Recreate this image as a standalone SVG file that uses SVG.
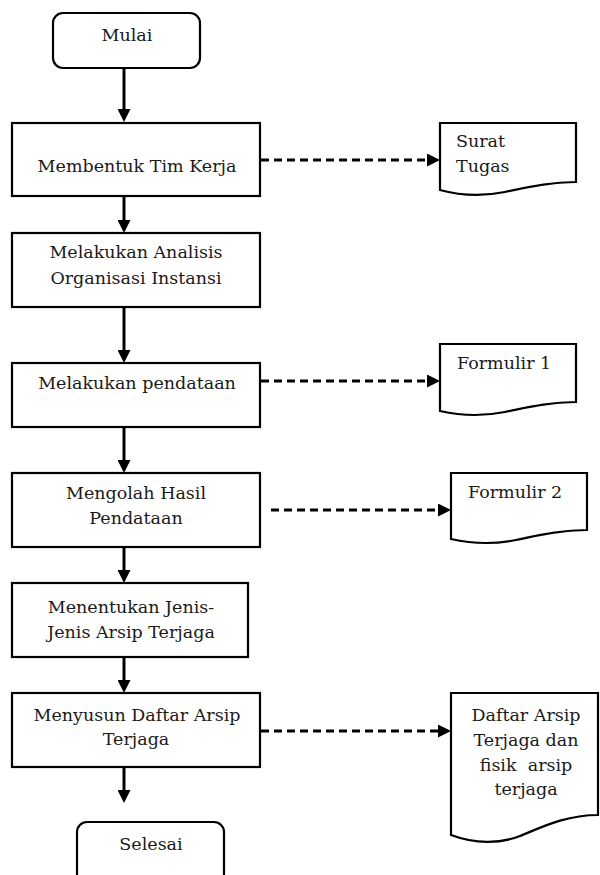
<svg xmlns="http://www.w3.org/2000/svg" width="600" height="875" viewBox="0 0 600 875">
<defs>
<style>
.box{fill:#fff;stroke:#000;stroke-width:2.2}
.t{font-family:"DejaVu Serif","Liberation Serif",serif;font-size:17.5px;fill:#1a1a1a}
.c{text-anchor:middle}
.solid{stroke:#000;stroke-width:3;fill:none}
.dash{stroke:#000;stroke-width:3;fill:none;stroke-dasharray:8 5}
</style>
<marker id="ah" viewBox="0 0 13 13" refX="9" refY="6.5" markerWidth="13" markerHeight="13" markerUnits="userSpaceOnUse" orient="auto">
<path d="M0,0 L13,6.5 L0,13 Z" fill="#000"/>
</marker>
</defs>
<rect width="600" height="875" fill="#fff"/>
<g id="connectors">
<line class="solid" x1="124" y1="68" x2="124" y2="118" marker-end="url(#ah)"/>
<line class="solid" x1="124" y1="196" x2="124" y2="229" marker-end="url(#ah)"/>
<line class="solid" x1="124" y1="307" x2="124" y2="359" marker-end="url(#ah)"/>
<line class="solid" x1="124" y1="427" x2="124" y2="469" marker-end="url(#ah)"/>
<line class="solid" x1="124" y1="547" x2="124" y2="579" marker-end="url(#ah)"/>
<line class="solid" x1="124" y1="657" x2="124" y2="689" marker-end="url(#ah)"/>
<line class="solid" x1="124" y1="767" x2="124" y2="799" marker-end="url(#ah)"/>
<line class="dash" x1="261" y1="160" x2="436" y2="160" marker-end="url(#ah)"/>
<line class="dash" x1="261" y1="381" x2="436" y2="381" marker-end="url(#ah)"/>
<line class="dash" x1="271" y1="510" x2="447" y2="510" marker-end="url(#ah)"/>
<line class="dash" x1="261" y1="731" x2="447" y2="731" marker-end="url(#ah)"/>
</g>
<g id="mulai">
<rect class="box" x="53" y="13" width="147" height="55" rx="10"/>
<text class="t c" x="127" y="41">Mulai</text>
</g>
<g id="membentuk">
<rect class="box" x="12" y="123" width="248" height="73"/>
<text class="t c" x="137" y="172">Membentuk Tim Kerja</text>
</g>
<g id="surat-tugas">
<path class="box" d="M440,123 H576 V182 C548,182 525,188 505,192 C485,196 462,196 440,190 Z"/>
<text class="t" x="456" y="147">Surat</text>
<text class="t" x="456" y="172">Tugas</text>
</g>
<g id="analisis">
<rect class="box" x="12" y="233" width="248" height="74"/>
<text class="t c" x="136" y="258">Melakukan Analisis</text>
<text class="t c" x="136" y="284">Organisasi Instansi</text>
</g>
<g id="pendataan">
<rect class="box" x="12" y="363" width="248" height="64"/>
<text class="t c" x="137" y="389">Melakukan pendataan</text>
</g>
<g id="formulir1">
<path class="box" d="M440,344 H576 V402 C548,402 525,408 505,412 C485,416 462,416 440,411 Z"/>
<text class="t" x="457" y="369">Formulir 1</text>
</g>
<g id="mengolah">
<rect class="box" x="12" y="473" width="248" height="74"/>
<text class="t c" x="136" y="499">Mengolah Hasil</text>
<text class="t c" x="136" y="524">Pendataan</text>
</g>
<g id="formulir2">
<path class="box" d="M451,473 H587 V530 C559,530 536,536 516,540 C496,544 473,544 451,539 Z"/>
<text class="t" x="468" y="498">Formulir 2</text>
</g>
<g id="menentukan">
<rect class="box" x="12" y="583" width="236" height="74"/>
<text class="t c" x="131" y="613">Menentukan Jenis-</text>
<text class="t c" x="131" y="638">Jenis Arsip Terjaga</text>
</g>
<g id="menyusun">
<rect class="box" x="12" y="693" width="248" height="74"/>
<text class="t c" x="137" y="721">Menyusun Daftar Arsip</text>
<text class="t c" x="136" y="745">Terjaga</text>
</g>
<g id="daftar-arsip">
<path class="box" d="M451,693 H598 V815 C565,815 540,828 520,836 C500,844 475,844 451,835 Z"/>
<text class="t c" x="526" y="721">Daftar Arsip</text>
<text class="t c" x="526" y="746">Terjaga dan</text>
<text class="t c" x="526" y="771" xml:space="preserve">fisik  arsip</text>
<text class="t c" x="526" y="795">terjaga</text>
</g>
<g id="selesai">
<rect class="box" x="77" y="822" width="147" height="62" rx="10"/>
<text class="t c" x="151" y="850">Selesai</text>
</g>
</svg>
